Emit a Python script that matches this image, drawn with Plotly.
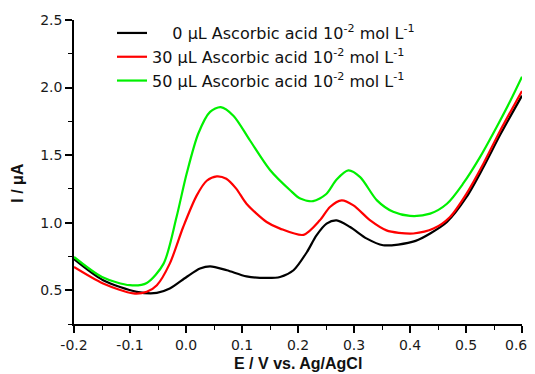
import plotly.graph_objects as go

# Black: 0 µL
e_black = [-0.2, -0.148, -0.088, -0.052, -0.029, 0.001, 0.025, 0.043, 0.073, 0.108, 0.144, 0.168,
           0.192, 0.216, 0.233, 0.251, 0.269, 0.293, 0.323, 0.352, 0.379, 0.41, 0.436, 0.466,
           0.501, 0.531, 0.561, 0.6]
i_black = [0.73, 0.574, 0.488, 0.48, 0.512, 0.598, 0.66, 0.677, 0.648, 0.603, 0.591, 0.598,
           0.648, 0.783, 0.906, 0.993, 1.017, 0.968, 0.882, 0.833, 0.838, 0.865, 0.92, 1.005,
           1.19, 1.41, 1.65, 1.94]

# Red: 30 µL
e_red = [-0.2, -0.148, -0.094, -0.07, -0.052, -0.029, -0.005, 0.019, 0.037, 0.055, 0.072, 0.09,
         0.108, 0.144, 0.168, 0.21, 0.239, 0.257, 0.278, 0.299, 0.329, 0.358, 0.38, 0.406, 0.442,
         0.471, 0.501, 0.531, 0.561, 0.6]
i_red = [0.672, 0.55, 0.476, 0.488, 0.537, 0.697, 0.968, 1.2, 1.31, 1.343, 1.325, 1.25,
         1.14, 1.005, 0.956, 0.91, 1.017, 1.116, 1.165, 1.128, 1.017, 0.943, 0.925, 0.92, 0.956,
         1.04, 1.215, 1.436, 1.68, 1.975]

# Green: 50 µL
e_green = [-0.2, -0.15, -0.1, -0.07, -0.04, -0.017, 0.001, 0.022, 0.043, 0.062, 0.085, 0.114,
           0.15, 0.186, 0.204, 0.227, 0.25, 0.269, 0.29, 0.311, 0.341, 0.37, 0.4, 0.436, 0.466,
           0.495, 0.525, 0.555, 0.579, 0.6]
i_green = [0.746, 0.598, 0.537, 0.554, 0.697, 1.04, 1.36, 1.66, 1.82, 1.855, 1.79, 1.61,
           1.39, 1.24, 1.178, 1.16, 1.21, 1.32, 1.387, 1.337, 1.165, 1.08, 1.05, 1.067, 1.14,
           1.29, 1.485, 1.71, 1.90, 2.08]

labels = [
    "\u2007\u20070 \u03bcL Ascorbic acid 10<sup>-2</sup> mol L<sup>-1</sup>",
    "30 \u03bcL Ascorbic acid 10<sup>-2</sup> mol L<sup>-1</sup>",
    "50 \u03bcL Ascorbic acid 10<sup>-2</sup> mol L<sup>-1</sup>",
]
colors = ["#000000", "#ff0000", "#00f000"]
series = [(e_black, i_black), (e_red, i_red), (e_green, i_green)]

x_ticks = [-0.2, -0.1, 0.0, 0.1, 0.2, 0.3, 0.4, 0.5, 0.6]
x_ticktext = ["-0.2", "-0.1", "0.0", "0.1", "0.2", "0.3", "0.4", "0.5", "0.6\u2007\u2009"]
y_ticks = [0.5, 1.0, 1.5, 2.0, 2.5]
y_ticktext = ["0.5", "1.0", "1.5", "2.0", "2.5"]

fig = go.Figure()
for (x, y), name, c in zip(series, labels, colors):
    fig.add_trace(go.Scatter(x=x, y=y, name=name, mode="lines",
                             line=dict(color=c, width=2.2, shape="spline", smoothing=0.8)))

tick_font = dict(family="DejaVu Sans, sans-serif", size=14, color="#1a1a1a")
title_font = dict(family="Liberation Sans, Arial, sans-serif", size=16, color="#111111")

W, H = 519, 366
L, R, T, B = 66, 5, 11.5, 50
pw = W - L - R
ph = H - T - B
fig.update_layout(
    width=W, height=H,
    margin=dict(l=L, r=R, t=T, b=B, autoexpand=False),
    paper_bgcolor="white", plot_bgcolor="white",
    font=dict(family="DejaVu Sans, sans-serif", size=14, color="#1a1a1a"),
    showlegend=True,
    legend=dict(x=38 / pw, y=1.013, xanchor="left", yanchor="top", bgcolor="rgba(0,0,0,0)",
                font=dict(family="DejaVu Sans, sans-serif", size=16, color="#111111"),
                tracegroupgap=0),
    xaxis=dict(range=[-0.2, 0.6], tickvals=x_ticks, ticktext=x_ticktext,
               tickfont=tick_font, ticklabeloverflow="allow",
               showgrid=False, zeroline=False, showline=True, linecolor="black", linewidth=1.5,
               ticks="outside", ticklen=7, tickwidth=1.5, tickcolor="black",
               minor=dict(dtick=0.05, ticks="outside", ticklen=4, tickwidth=1.2, tickcolor="black")),
    yaxis=dict(range=[0.25, 2.5], tickvals=y_ticks, ticktext=y_ticktext,
               tickfont=tick_font, ticklabeloverflow="allow",
               showgrid=False, zeroline=False, showline=True, linecolor="black", linewidth=1.5,
               ticks="outside", ticklen=7, tickwidth=1.5, tickcolor="black",
               minor=dict(dtick=0.25, ticks="outside", ticklen=4, tickwidth=1.2, tickcolor="black")),
    annotations=[
        dict(text="<b>E / V vs. Ag/AgCl</b>", xref="paper", yref="paper", x=0.5, y=-(40.0 / ph),
             xanchor="center", yanchor="middle", showarrow=False, font=title_font),
        dict(text="<b>I / \u03bcA</b>", xref="paper", yref="paper", x=(17.5 - 74) / pw,
             y=(324 - 183) / ph, xanchor="center", yanchor="middle", showarrow=False,
             textangle=-90, font=title_font),
    ],
)
fig.write_html("out.html")
